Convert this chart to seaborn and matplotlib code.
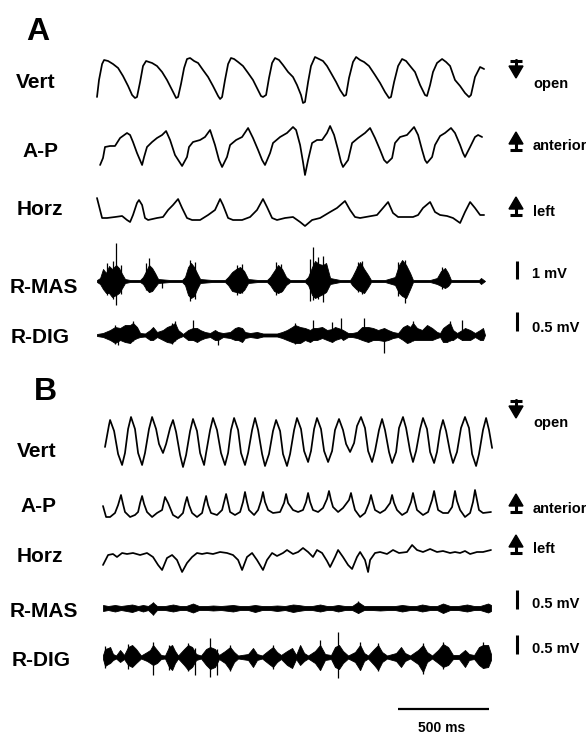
import numpy as np
import pandas as pd
import matplotlib.pyplot as plt
from matplotlib.patches import Polygon
import seaborn as sns

# ---------------------------------------------------------------
# digitised traces: time in ms, amplitude in a.u. (up = positive)
# ---------------------------------------------------------------

# Panel A - jaw movement
A_VERT_T = [0, 11, 28, 39, 61, 88, 116, 143, 171, 193, 209, 220, 237, 253, 270, 286, 303, 330, 358, 385,
            413, 435, 446, 462, 479, 495, 512, 534, 556, 583, 611, 638, 666, 677, 688, 704, 721, 737, 754, 776,
            803, 831, 858, 880, 902, 913, 930, 946, 963, 979, 1001, 1023, 1051, 1078, 1100, 1122, 1133, 1144, 1161, 1177,
            1199, 1221, 1243, 1265, 1287, 1315, 1337, 1359, 1370, 1386, 1408, 1425, 1447, 1469, 1496, 1529, 1557, 1584, 1606, 1617,
            1634, 1656, 1678, 1700, 1722, 1749, 1777, 1804, 1815, 1832, 1848, 1870, 1898, 1920, 1942, 1969, 1997, 2024, 2046, 2057,
            2079, 2107, 2129]
A_VERT_V = [-17, 0, 16, 20, 19, 16, 12, 4, -6, -15, -18, -17, -2, 14, 19, 18, 17, 14, 8, 0,
            -10, -18, -17, -4, 12, 21, 22, 19, 17, 10, 3, -6, -16, -19, -17, 0, 16, 22, 21, 18,
            14, 7, 0, -8, -16, -17, -15, 2, 17, 22, 20, 15, 8, 3, -5, -15, -23, -22, -2, 14,
            23, 21, 19, 14, 7, -2, -10, -16, -15, 2, 18, 23, 20, 18, 14, 5, -3, -12, -18, -17,
            -2, 14, 21, 19, 14, 8, -5, -15, -16, -5, 8, 17, 21, 18, 14, 0, -6, -13, -17, -15,
            3, 13, 11]

A_AP_T = [17, 33, 44, 72, 99, 127, 165, 182, 198, 220, 248,
          259, 275, 303, 330, 358, 380, 402, 429, 468,
          495, 506, 528, 567, 594, 622, 649, 671, 688,
          715, 732, 765, 798, 831, 858, 886, 908, 924,
          952, 968, 1007, 1045, 1078, 1095, 1117, 1133, 1144,
          1161, 1183, 1210, 1238, 1265, 1282, 1304, 1326, 1342, 1353,
          1381, 1403, 1436, 1474, 1502, 1529, 1557, 1579, 1595,
          1623, 1639, 1667, 1705, 1744, 1766, 1788, 1804, 1815,
          1843, 1859, 1887, 1914, 1947, 1969, 1997, 2013, 2024,
          2052, 2079, 2096, 2118]
A_AP_V = [-18, -11, 0, 1, 1, 9, 14, 12, 5, -6, -18,
          -10, 0, 5, 9, 12, 16, 7, -8, -19,
          -10, 0, 5, 7, 10, 17, 2, -13, -20,
          -10, 2, 7, 10, 19, 9, -3, -13, -18,
          -6, 4, 10, 14, 20, 17, 2, -15, -28,
          -13, 4, 7, 7, 14, 21, 12, -3, -15, -20,
          -13, 4, 9, 14, 19, 9, -3, -13, -16,
          -11, 4, 10, 12, 20, 12, -3, -13, -16,
          -10, 2, 11, 14, 19, 14, 2, -6, -10,
          0, 10, 12, 10]

A_HORZ_T = [0, 28, 55, 99, 138, 165, 182, 198, 220, 231, 248, 264, 281, 330, 363, 391, 418, 446, 468, 495,
            523, 567, 611, 649, 677, 693, 721, 748, 798, 842, 880, 913, 935, 963, 990, 1034, 1078, 1117, 1144, 1183,
            1227, 1282, 1320, 1364, 1392, 1419, 1447, 1540, 1573, 1601, 1628, 1656, 1738, 1766, 1793, 1832, 1859, 1887, 1925, 1958,
            1997, 2024, 2052, 2079, 2107, 2129]
A_HORZ_V = [17, -3, -3, -2, -1, -5, -7, 0, 12, 15, 10, -3, -5, -3, -2, 5, 10, 16, 7, -3,
            -5, -5, 0, 5, 16, 10, -3, -5, -5, -2, 5, 16, 8, -3, -5, -3, -2, -7, -11, -5,
            -3, 3, 7, 14, 5, -2, -3, 0, 7, 13, 2, -2, -2, 0, 7, 13, 3, 0, -1, -3,
            -8, 3, 13, 7, 0, 0]

# Panel A - EMG envelopes (upper / lower) and single spikes
A_MAS_T = [0, 17, 33, 50, 66, 83, 105, 121, 138, 154, 182, 237, 253, 270, 286, 303, 319, 336, 402, 468,
           484, 501, 517, 534, 550, 567, 633, 704, 721, 743, 765, 787, 809, 831, 886, 935, 952, 974, 996, 1018,
           1040, 1062, 1144, 1161, 1183, 1199, 1221, 1243, 1260, 1282, 1337, 1392, 1403, 1425, 1447, 1469, 1491, 1507, 1584, 1639,
           1661, 1678, 1700, 1722, 1738, 1832, 1870, 1892, 1914, 1931, 1947, 2052, 2101, 2112, 2134]
A_MAS_UP = [1, 3, 12, 8, 15, 12, 16, 13, 7, 2, 1, 1, 4, 10, 16, 13, 8, 2, 1, 1,
            4, 14, 18, 14, 8, 2, 1, 1, 4, 9, 12, 14, 10, 2, 1, 1, 4, 10, 16, 12,
            4, 1, 1, 4, 14, 20, 17, 16, 18, 3, 1, 1, 4, 12, 19, 12, 6, 1, 1, 4,
            16, 21, 16, 8, 1, 1, 3, 10, 13, 8, 1, 1, 1, 3, 0]
A_MAS_LO = [-1, -3, -8, -12, -12, -16, -14, -12, -7, -2, -1, -1, -3, -8, -11, -10, -6, -2, -1, -1,
            -4, -14, -17, -15, -8, -2, -1, -1, -4, -10, -11, -12, -9, -2, -1, -1, -4, -10, -12, -10,
            -4, -1, -1, -4, -14, -17, -15, -13, -11, -3, -1, -1, -4, -8, -10, -12, -6, -1, -1, -4,
            -12, -15, -17, -8, -1, -1, -3, -5, -7, -5, -1, -1, -1, -3, 0]
A_MAS_SPK_T = [55, 88, 105, 132, 270, 286, 358, 512, 539, 770, 798, 985, 1012, 1172, 1188, 1216, 1243,
               1430, 1436, 1458, 1656, 1694, 1898]
A_MAS_SPK_UP = [18, 20, 38, 16, 18, 23, 1, 21, 19, 16, 17, 19, 17, 22, 34, 24, 25, 15, 19, 20, 19, 21, 14]
A_MAS_SPK_LO = [-14, -18, -24, -13, -9, -11, -7, -20, -18, -14, -12, -14, -11, -20, -19, -18, -21, -9, -11, -13,
                -15, -22, -8]

A_DIG_T = [0, 33, 72, 99, 127, 154, 182, 198, 220, 237, 264, 292, 308, 330, 363, 385, 413, 429, 446, 473,
           501, 528, 550, 567, 594, 622, 649, 666, 693, 732, 759, 776, 798, 814, 842, 880, 913, 990, 1018, 1045,
           1073, 1089, 1117, 1144, 1172, 1188, 1210, 1238, 1265, 1293, 1309, 1342, 1353, 1381, 1403, 1430, 1458, 1491, 1518, 1546,
           1579, 1601, 1628, 1656, 1683, 1705, 1722, 1738, 1760, 1788, 1815, 1843, 1870, 1887, 1903, 1925, 1942, 1958, 1980, 2008,
           2024, 2052, 2079, 2107, 2123, 2134]
A_DIG_UP = [1, 2, 5, 8, 7, 10, 10, 12, 8, 2, 1.5, 5, 8, 3, 5, 8, 10, 12, 5, 1,
            5, 7, 7, 5, 3, 2, 5, 3, 2, 3, 7, 8, 7, 3, 2, 3, 1.5, 1.5, 3, 5,
            8, 10, 8, 7, 5, 7, 7, 8, 5, 6, 8, 6, 5, 2, 2, 3, 8, 8, 7, 5,
            7, 5, 3, 2, 8, 10, 8, 12, 7, 5, 10, 7, 3, 2, 7, 10, 12, 5, 2, 5,
            7, 5, 2, 5, 7, 0]
A_DIG_LO = [-1, -2, -5, -8, -5, -7, -8, -5, -3, -2, -1.5, -5, -5, -2, -5, -7, -8, -5, -3, -1,
            -5, -5, -7, -5, -3, -2, -5, -5, -2, -3, -5, -5, -7, -3, -2, -3, -1.5, -1.5, -3, -5,
            -7, -8, -8, -5, -7, -5, -5, -3, -5, -7, -5, -3, -5, -2, -2, -3, -5, -7, -5, -5,
            -6, -5, -3, -2, -5, -8, -7, -5, -5, -5, -5, -5, -3, -2, -7, -7, -5, -5, -2, -5,
            -5, -5, -2, -5, -5, 0]
A_DIG_SPK_T = [99, 116, 165, 198, 413, 429, 528, 666, 1089, 1188, 1293, 1342, 1469, 1579, 1738, 1942, 2008]
A_DIG_SPK_UP = [10, 4, 9, 14, 12, 14, 15, 3, 12, 15, 13, 17, 17, 6, 14, 14, 15]
A_DIG_SPK_LO = [-9, -10, -7, -6, -9, -6, -5, -10, -9, -5, -6, -3, -5, -18, -6, -6, -5]

# Panel B - jaw movement
B_VERT_T = [44, 55, 66, 72, 94, 116, 138, 154, 171, 187, 209, 226, 248, 264, 286, 303, 325, 341, 363,
            380, 402, 418, 435, 457, 473, 490, 512, 528, 550, 567, 589, 600, 622, 638, 660, 682, 704,
            721, 737, 754, 776, 792, 814, 831, 853, 869, 886, 908, 924, 946, 968, 985, 1007, 1023, 1045,
            1062, 1084, 1100, 1122, 1139, 1161, 1177, 1194, 1210, 1232, 1249, 1271, 1293, 1309, 1331,
            1353, 1370, 1392, 1414, 1430, 1452, 1474, 1491, 1513, 1529, 1551, 1568, 1584, 1606, 1623,
            1645, 1661, 1683, 1700, 1722, 1738, 1755, 1777, 1793, 1815, 1832, 1854, 1870, 1887, 1903,
            1920, 1942, 1958, 1980, 2002, 2024, 2046, 2063, 2085, 2101, 2123, 2140, 2156, 2173]
B_VERT_V = [-5, 6, 17, 22, 11, -12, -23, -11, 13, 25, 13, -11, -23, -11, 13, 25, 13, -2, -11,
            -2, 14, 22, 10, -13, -25, -13, 11, 23, 11, -11, -23, -11, 12, 24, 12, -11, -23,
            -11, 12, 24, 12, -11, -23, -11, 12, 24, 12, -12, -24, -12, 11, 22, 11, -12, -24,
            -12, 12, 24, 13, -9, -20, -9, 13, 24, 13, -9, -20, -9, 12, 23,
            12, -2, -10, -1, 16, 25, 14, -9, -20, -9, 12, 23, 12, -10, -21,
            -10, 14, 25, 14, -9, -20, -9, 13, 24, 13, -10, -21, -10, 11, 22,
            11, -10, -21, -10, 14, 25, 14, -12, -24, -12, 12, 24, 12, -6]

B_AP_T = [33, 50, 72, 99, 116, 132, 143, 154, 182, 209, 226, 237, 248, 259, 275, 303, 330, 358, 374, 391,
          418, 446, 473, 484, 495, 506, 523, 550, 578, 589, 600, 611, 627, 660, 688, 699, 710, 721, 732, 759,
          787, 803, 814, 825, 836, 864, 886, 902, 913, 924, 941, 968, 1007, 1029, 1040, 1051, 1078, 1106, 1133, 1150,
          1161, 1172, 1188, 1216, 1243, 1265, 1276, 1287, 1298, 1326, 1353, 1386, 1397, 1408, 1419, 1447, 1474, 1496, 1507, 1518,
          1529, 1557, 1584, 1612, 1623, 1634, 1650, 1678, 1705, 1727, 1738, 1749, 1760, 1793, 1821, 1843, 1854, 1865, 1876, 1903,
          1931, 1953, 1969, 1980, 1997, 2024, 2052, 2068, 2079, 2090, 2101, 2123, 2167]
B_AP_V = [2, -9, -9, -5, 3, 13, 4, -4, -9, -7, -4, 5, 12, 4, -4, -9, -5, -2, 11, 5,
          -7, -10, -5, 4, 11, 3, -5, -9, -5, 4, 12, 3, -5, -7, -2, 6, 14, 5, -4, -7,
          -4, 6, 16, 6, -2, -7, -2, 7, 16, 6, -2, -5, -4, 5, 14, 5, -2, -4, -2, 6,
          15, 6, -2, -4, 0, 9, 17, 8, 1, -4, 0, 8, 15, 6, -2, -9, -5, 5, 13, 5,
          -2, -5, -2, 5, 13, 5, -2, -7, -4, 6, 15, 6, -2, -7, -4, 8, 17, 7, -2, -5,
          -5, 1, 17, 7, -2, -9, -5, 6, 18, 8, -2, -5, -4]

B_HORZ_T = [33, 61, 88, 110, 138, 165, 198, 237, 275, 308, 336, 358, 385, 413, 440, 468, 495, 523, 550, 578,
            605, 638, 677, 715, 748, 776, 798, 825, 853, 880, 913, 935, 963, 990, 1023, 1045, 1078, 1106, 1133, 1161,
            1188, 1210, 1238, 1265, 1282, 1309, 1326, 1353, 1381, 1403, 1430, 1447, 1474, 1491, 1502, 1529, 1557, 1595, 1628, 1661,
            1705, 1733, 1760, 1793, 1832, 1870, 1903, 1942, 1969, 1997, 2024, 2052, 2090, 2123, 2167]
B_HORZ_V = [-9, 1, 2, -1, 3, 2, 3, 1, 3, -1, -9, -14, -2, 1, -4, -16, -7, -1, 3, 2,
            3, 2, 4, 3, 1, -4, -14, -1, 3, -4, -14, -4, 3, 0, 3, 6, 2, 4, 8, 4,
            -1, 6, 3, -5, -11, -1, 6, -1, -9, -13, -1, 4, -4, -16, -4, 3, 4, 2, 6, 3,
            4, 11, 6, 4, 7, 4, 5, 3, 4, 3, 5, 2, 4, 4, 6]

# Panel B - EMG
B_MAS_T = [33, 61, 99, 132, 193, 226, 253, 281, 308, 330, 374, 418, 457, 490, 528, 561, 605, 638, 682, 748,
           787, 831, 869, 908, 952, 990, 1034, 1078, 1106, 1144, 1183, 1227, 1265, 1293, 1326, 1364, 1403, 1436, 1469, 1513,
           1557, 1601, 1639, 1678, 1722, 1755, 1788, 1832, 1870, 1903, 1942, 1986, 2035, 2074, 2107, 2151, 2167]
B_MAS_UP = [3, 2, 3, 2, 3.5, 2, 3, 2, 5.5, 2, 2, 3.5, 2, 2, 4.5, 2, 2, 2.5, 2, 3,
            2, 2, 3, 2, 2, 2.5, 2, 3.5, 3, 2, 2, 3.5, 2, 2, 3, 2, 2, 6, 2, 2,
            2, 2, 2, 3, 2, 2, 3.5, 2, 2, 4.5, 2, 2, 3.5, 2, 2, 4.5, 3]
B_MAS_LO = [-3, -2, -3.5, -2, -4, -2, -3.5, -2, -6.5, -2, -2, -3.5, -2, -2, -4.5, -2, -2, -2.5, -2, -3.5,
            -2, -2, -4, -2, -2, -3, -2, -4, -3, -2, -2, -3.5, -2, -2, -3.5, -2, -2, -5, -2, -2,
            -2.5, -2, -2, -3.5, -2, -2, -3.5, -2, -2, -5, -2, -2, -3.5, -2, -2, -4.5, -3]
B_MAS_SPK_T = [308, 1436]
B_MAS_SPK_UP = [6, 7]
B_MAS_SPK_LO = [-7, -5]

B_DIG_T = [33, 44, 61, 72, 88, 105, 127, 149, 171, 193, 215, 242, 275, 292, 308, 330, 352, 374, 396, 413,
           429, 446, 479, 501, 523, 545, 572, 600, 622, 649, 671, 704, 732, 754, 776, 831, 858, 880, 908, 946,
           968, 990, 1012, 1045, 1073, 1095, 1117, 1139, 1161, 1199, 1227, 1254, 1287, 1309, 1331, 1353, 1381, 1419, 1447, 1469,
           1491, 1524, 1546, 1568, 1595, 1645, 1672, 1694, 1722, 1766, 1793, 1815, 1843, 1876, 1903, 1931, 1958, 1991, 2024, 2046,
           2074, 2101, 2123, 2151, 2167]
B_DIG_UP = [2, 8, 9, 10, 3, 1.5, 7, 2, 10, 12, 8, 1.5, 5, 7, 12, 7, 2, 1.5, 10, 12,
            6, 1.5, 8, 12, 10, 3, 1.5, 8, 10, 8, 2, 6, 10, 5, 1.5, 3, 9, 3, 1.5, 7,
            10, 5, 2, 6, 9, 2, 12, 4, 1.5, 6, 12, 3, 2, 10, 12, 6, 1.5, 5, 12, 4,
            1.5, 8, 12, 5, 1.5, 4, 10, 4, 1.5, 7, 12, 5, 1.5, 7, 13, 10, 2, 2, 7, 3,
            2, 10, 12, 12, 3]
B_DIG_LO = [-2, -9, -7, -6, -3, -1.5, -5, -2, -8, -10, -6, -1.5, -4, -6, -8, -6, -2, -1.5, -10, -13,
            -6, -1.5, -8, -13, -10, -3, -1.5, -8, -12, -10, -2, -6, -13, -5, -1.5, -3, -10, -3, -1.5, -7,
            -10, -5, -2, -8, -11, -2, -8, -4, -1.5, -6, -13, -3, -2, -10, -12, -6, -1.5, -5, -13, -4,
            -1.5, -8, -13, -5, -1.5, -4, -10, -4, -1.5, -7, -15, -5, -1.5, -6, -10, -8, -2, -2, -10, -3,
            -2, -8, -11, -10, -3]
B_DIG_SPK_T = [44, 171, 308, 396, 501, 539, 622, 660, 732, 968, 1227, 1326, 1447, 1546, 1793, 1903, 2123]
B_DIG_SPK_UP = [11, 13, 15, 12, 14, 9, 19, 8, 12, 12, 17, 25, 15, 14, 14, 15, 15]
B_DIG_SPK_LO = [-11, -12, -18, -13, -14, -18, -20, -18, -14, -12, -13, -21, -13, -14, -17, -12, -11]

ROW_LABELS = ["Vert", "A-P", "Horz", "R-MAS", "R-DIG"]
DIR_LABELS = ["open", "anterior", "left"]
A_EMG_SCALES = ["1 mV", "0.5 mV"]
B_EMG_SCALES = ["0.5 mV", "0.5 mV"]
TIME_BAR_MS = 500

# ---------------------------------------------------------------
# layout (pixels of the 586 x 735 figure)
# ---------------------------------------------------------------
W, H = 586, 735
MS_PER_PX = 5.5
T0_PX = 97

sns.set_theme(style="white")
plt.rcParams["font.family"] = ["Liberation Sans", "DejaVu Sans"]
plt.rcParams["font.weight"] = "bold"
plt.rcParams["text.color"] = "black"

fig = plt.figure(figsize=(W / 100, H / 100), dpi=100)
ax = fig.add_axes([0, 0, 1, 1])
ax.set_xlim(-T0_PX * MS_PER_PX, (W - T0_PX) * MS_PER_PX)
ax.set_ylim(H, 0)
ax.axis("off")

ov = fig.add_axes([0, 0, 1, 1], facecolor="none")
ov.set_xlim(0, W)
ov.set_ylim(H, 0)
ov.axis("off")


def trace(t, v, base):
    df = pd.DataFrame({"t": t, "v": v})
    df["y"] = base - df["v"]
    sns.lineplot(data=df, x="t", y="y", ax=ax, color="black", linewidth=1.25,
                 estimator=None, sort=False)


def emg(t, up, lo, base, spk_t, spk_up, spk_lo):
    t = np.asarray(t, float)
    ax.fill_between(t, base - np.asarray(up, float), base - np.asarray(lo, float),
                    color="black", linewidth=0.6)
    ax.vlines(spk_t, base - np.asarray(spk_up, float), base - np.asarray(spk_lo, float),
              color="black", linewidth=0.9)


def dir_mark(x, top, down):
    hw, th = 7, 12
    if down:
        ov.plot([x - 6, x + 6], [top + 1, top + 1], color="black", lw=2.2, solid_capstyle="butt")
        ov.plot([x, x], [top, top + 8], color="black", lw=2.2)
        ov.add_patch(Polygon([(x - hw, top + 6), (x + hw, top + 6), (x, top + 6 + th)],
                             closed=True, color="black"))
    else:
        ov.add_patch(Polygon([(x - hw, top + th), (x + hw, top + th), (x, top)],
                             closed=True, color="black"))
        ov.plot([x, x], [top + 10, top + 18], color="black", lw=2.2)
        ov.plot([x - 6, x + 6], [top + 18, top + 18], color="black", lw=2.2, solid_capstyle="butt")


# panel A
trace(A_VERT_T, A_VERT_V, 80)
trace(A_AP_T, A_AP_V, 147)
trace(A_HORZ_T, A_HORZ_V, 215)
emg(A_MAS_T, A_MAS_UP, A_MAS_LO, 281, A_MAS_SPK_T, A_MAS_SPK_UP, A_MAS_SPK_LO)
emg(A_DIG_T, A_DIG_UP, A_DIG_LO, 335, A_DIG_SPK_T, A_DIG_SPK_UP, A_DIG_SPK_LO)

# panel B
trace(B_VERT_T, B_VERT_V, 442)
trace(B_AP_T, B_AP_V, 508)
trace(B_HORZ_T, B_HORZ_V, 556)
emg(B_MAS_T, B_MAS_UP, B_MAS_LO, 608, B_MAS_SPK_T, B_MAS_SPK_UP, B_MAS_SPK_LO)
emg(B_DIG_T, B_DIG_UP, B_DIG_LO, 657, B_DIG_SPK_T, B_DIG_SPK_UP, B_DIG_SPK_LO)

# time scale bar
bar_start = (398 - T0_PX) * MS_PER_PX
ax.plot([bar_start, bar_start + TIME_BAR_MS], [709, 709], color="black", lw=1.6,
        solid_capstyle="butt")
ov.text(442, 732, f"{TIME_BAR_MS} ms", ha="center", va="baseline", fontsize=10,
        fontweight="bold", color="black")

# panel letters
ov.text(26, 40, "A", fontsize=23, fontweight="bold", va="baseline", color="black")
ov.text(34, 400, "B", fontsize=23, fontweight="bold", va="baseline", color="black")

# row labels
label_pos = {
    "A": [(36, 88), (40, 157), (40, 215), (44, 293), (40, 343)],
    "B": [(37, 457), (38, 512), (40, 562), (44, 617), (41, 666)],
}
for panel in ["A", "B"]:
    for name, (x, y) in zip(ROW_LABELS, label_pos[panel]):
        ov.text(x, y, name, ha="center", va="baseline", fontsize=15, fontweight="bold",
                color="black")

# direction marks
for (top, down), lab, base in zip([(60, True), (132, False), (197, False)],
                                  DIR_LABELS, [88, 150, 216]):
    dir_mark(516, top, down)
    ov.text(533, base, lab, fontsize=10.5, fontweight="bold", va="baseline", color="black")
for (top, down), lab, base in zip([(400, True), (494, False), (535, False)],
                                  DIR_LABELS, [427, 513, 553]):
    dir_mark(516, top, down)
    ov.text(533, base, lab, fontsize=10.5, fontweight="bold", va="baseline", color="black")

# EMG amplitude bars
for (y0, y1, base), lab in zip([(261, 279, 278), (312, 331, 332)], A_EMG_SCALES):
    ov.plot([517, 517], [y0, y1], color="black", lw=2.2, solid_capstyle="butt")
    ov.text(532, base, lab, fontsize=10.5, fontweight="bold", va="baseline", color="black")
for (y0, y1, base), lab in zip([(590, 609, 608), (635, 654, 653)], B_EMG_SCALES):
    ov.plot([517, 517], [y0, y1], color="black", lw=2.2, solid_capstyle="butt")
    ov.text(532, base, lab, fontsize=10.5, fontweight="bold", va="baseline", color="black")

fig.savefig("out.png", dpi=100, facecolor="white")
